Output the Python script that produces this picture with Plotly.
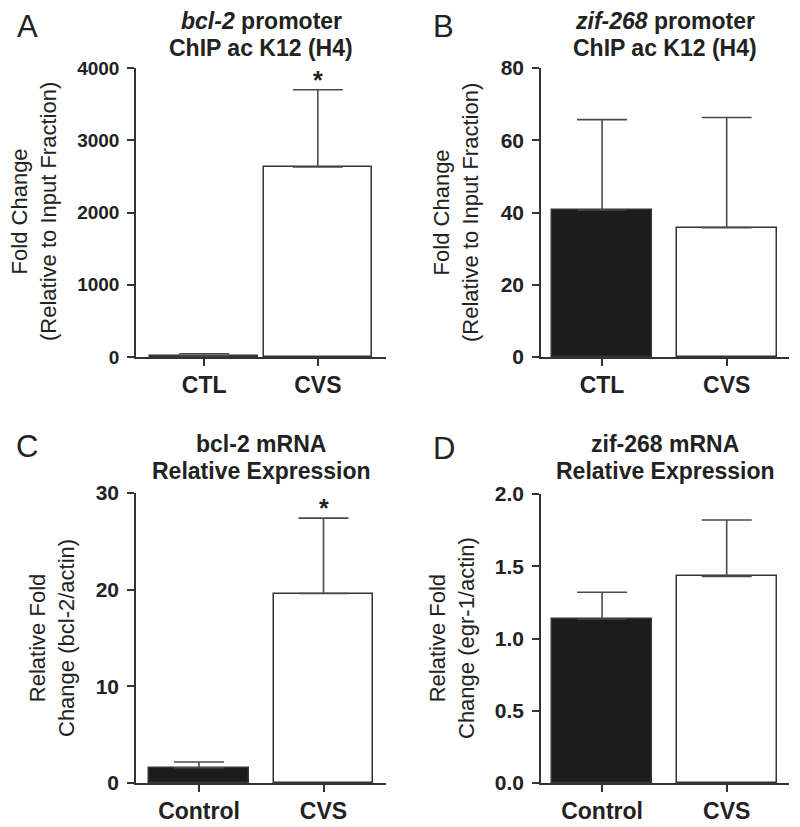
import plotly.graph_objects as go

# ---- data ----
groups_ab = ["CTL", "CVS"]
groups_cd = ["Control", "CVS"]

a_mean = [15, 2630]
a_err = [30, 1070]

b_mean = [40.7, 35.8]
b_err = [25.0, 30.5]

c_mean = [1.58, 19.6]
c_err = [0.6, 7.8]

d_mean = [1.135, 1.43]
d_err = [0.185, 0.39]

a_ticks = [0, 1000, 2000, 3000, 4000]
b_ticks = [0, 20, 40, 60, 80]
c_ticks = [0, 10, 20, 30]
d_ticks = [0.0, 0.5, 1.0, 1.5, 2.0]
d_ticklabels = ["0.0", "0.5", "1.0", "1.5", "2.0"]

FONT = "Liberation Sans, Arial, Helvetica, sans-serif"
AX = "#333333"
BAR_FILL = ["#1c1c1c", "#ffffff"]
W, H = 800, 827

fig = go.Figure()

panels = [
    ("", a_mean, a_err, groups_ab, 0.95, (136, 386), (68, 357), [-0.6, 1.6], [0, 4000], a_ticks, None, 19),
    ("2", b_mean, b_err, groups_ab, 0.8, (541, 789), (68, 357), [-0.49, 1.5], [0, 80], b_ticks, None, 21),
    ("3", c_mean, c_err, groups_cd, 0.8, (136, 386), (493, 783), [-0.506, 1.502], [0, 30], c_ticks, None, 21),
    ("4", d_mean, d_err, groups_cd, 0.8, (541, 789), (494, 783), [-0.49, 1.5], [0, 2], d_ticks, d_ticklabels, 21),
]

for pid, mean, err, cats, bw, xd, yd, xr, yr, tv, tt, tf in panels:
    fig.add_trace(go.Bar(
        x=[0, 1], y=mean, width=bw,
        marker=dict(color=BAR_FILL, line=dict(color=AX, width=1.5)),
        error_y=dict(type="data", symmetric=False, array=err, arrayminus=[0, 0],
                     color="#4a4a4a", thickness=1.6, width=25),
        xaxis="x" + pid, yaxis="y" + pid, showlegend=False,
    ))
    xa = dict(
        domain=[xd[0] / W, xd[1] / W], range=xr, anchor="y" + pid,
        tickmode="array", tickvals=[0, 1], ticktext=cats,
        showline=True, linecolor=AX, linewidth=1.5,
        ticks="outside", ticklen=7, tickwidth=1.5, tickcolor=AX,
        showgrid=False, zeroline=False, automargin=False,
        tickfont=dict(family=FONT, size=23, color="#222222", weight="bold"),
    )
    ya = dict(
        domain=[1 - yd[1] / H, 1 - yd[0] / H], range=yr, anchor="x" + pid,
        tickmode="array", tickvals=tv,
        showline=True, linecolor=AX, linewidth=1.5,
        ticks="outside", ticklen=7, tickwidth=1.5, tickcolor=AX,
        showgrid=False, zeroline=False, ticklabelstandoff=4, automargin=False,
        tickfont=dict(family=FONT, size=tf, color="#222222", weight="bold"),
    )
    if tt is not None:
        ya["ticktext"] = tt
    fig.layout["xaxis" + pid] = xa
    fig.layout["yaxis" + pid] = ya

annotations = []

def txt(x, y, text, size, bold=False, angle=0):
    annotations.append(dict(
        x=x / W, y=1 - y / H, xref="paper", yref="paper", text=text,
        showarrow=False, textangle=angle, xanchor="center", yanchor="middle",
        font=dict(family=FONT, size=size, color="#222222",
                  weight="bold" if bold else "normal"),
    ))

# panel letters
txt(27, 27, "A", 31)
txt(443, 27, "B", 31)
txt(27, 447, "C", 31)
txt(444, 448, "D", 31)

# titles (one annotation per line)
txt(261, 21, "<i>bcl-2</i> promoter", 23, bold=True)
txt(261, 48, "ChIP ac K12 (H4)", 23, bold=True)
txt(665, 21, "<i>zif-268</i> promoter", 23, bold=True)
txt(665, 48, "ChIP ac K12 (H4)", 23, bold=True)
txt(261, 444, "bcl-2 mRNA", 23, bold=True)
txt(261, 471, "Relative Expression", 23, bold=True)
txt(665, 444, "zif-268 mRNA", 23, bold=True)
txt(665, 471, "Relative Expression", 23, bold=True)

# y titles
txt(34, 212, "Fold Change<br>(Relative to Input Fraction)", 22, angle=-90)
txt(456, 212, "Fold Change<br>(Relative to Input Fraction)", 22, angle=-90)
txt(52, 638, "Relative Fold<br>Change (bcl-2/actin)", 22, angle=-90)
txt(452, 638, "Relative Fold<br>Change (egr-1/actin)", 22, angle=-90)

fig.update_layout(annotations=annotations)

fig.add_annotation(x=1, y=a_mean[1] + a_err[1], xref="x", yref="y", text="<b>*</b>",
                   showarrow=False, yanchor="top", yshift=26,
                   font=dict(family=FONT, size=25, color="#222222"))
fig.add_annotation(x=1, y=c_mean[1] + c_err[1], xref="x3", yref="y3", text="<b>*</b>",
                   showarrow=False, yanchor="top", yshift=26,
                   font=dict(family=FONT, size=25, color="#222222"))

fig.update_layout(
    width=W, height=H, margin=dict(l=0, r=0, t=0, b=0, autoexpand=False),
    paper_bgcolor="white", plot_bgcolor="white", bargap=0,
)

fig.write_html("out.html", config={"displayModeBar": False},
               post_script="document.body.style.margin='0';document.body.style.overflow='hidden';")
